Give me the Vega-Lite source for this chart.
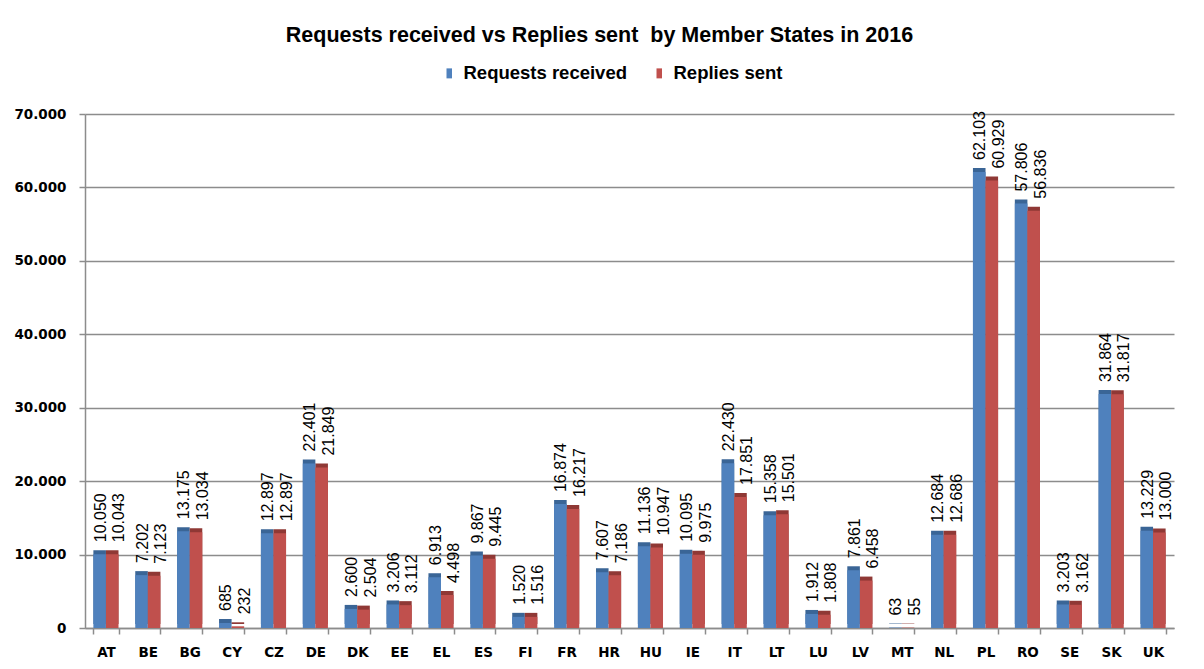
{
  "$schema": "https://vega.github.io/schema/vega-lite/v6.json",
  "width": 1089,
  "height": 514,
  "autosize": {"type": "none"},
  "padding": {"left": 85, "top": 114, "right": 30, "bottom": 41},
  "background": "white",
  "config": {
    "locale": {"number": {"decimal": ",", "thousands": ".", "grouping": [3], "currency": ["", " €"]}},
    "view": {"stroke": null},
    "font": "Liberation Sans"
  },
  "title": {
    "text": "Requests received vs Replies sent\u00a0 by Member States in 2016",
    "fontSize": 21.5,
    "fontWeight": "bold",
    "font": "Liberation Sans",
    "color": "black",
    "anchor": "middle",
    "dx": -30,
    "offset": 18
  },
  "data": {
    "values": [
      {"country": "AT", "series": "Requests received", "value": 10050},
      {"country": "AT", "series": "Replies sent", "value": 10043},
      {"country": "BE", "series": "Requests received", "value": 7202},
      {"country": "BE", "series": "Replies sent", "value": 7123},
      {"country": "BG", "series": "Requests received", "value": 13175},
      {"country": "BG", "series": "Replies sent", "value": 13034},
      {"country": "CY", "series": "Requests received", "value": 685},
      {"country": "CY", "series": "Replies sent", "value": 232},
      {"country": "CZ", "series": "Requests received", "value": 12897},
      {"country": "CZ", "series": "Replies sent", "value": 12897},
      {"country": "DE", "series": "Requests received", "value": 22401},
      {"country": "DE", "series": "Replies sent", "value": 21849},
      {"country": "DK", "series": "Requests received", "value": 2600},
      {"country": "DK", "series": "Replies sent", "value": 2504},
      {"country": "EE", "series": "Requests received", "value": 3206},
      {"country": "EE", "series": "Replies sent", "value": 3112},
      {"country": "EL", "series": "Requests received", "value": 6913},
      {"country": "EL", "series": "Replies sent", "value": 4498},
      {"country": "ES", "series": "Requests received", "value": 9867},
      {"country": "ES", "series": "Replies sent", "value": 9445},
      {"country": "FI", "series": "Requests received", "value": 1520},
      {"country": "FI", "series": "Replies sent", "value": 1516},
      {"country": "FR", "series": "Requests received", "value": 16874},
      {"country": "FR", "series": "Replies sent", "value": 16217},
      {"country": "HR", "series": "Requests received", "value": 7607},
      {"country": "HR", "series": "Replies sent", "value": 7186},
      {"country": "HU", "series": "Requests received", "value": 11136},
      {"country": "HU", "series": "Replies sent", "value": 10947},
      {"country": "IE", "series": "Requests received", "value": 10095},
      {"country": "IE", "series": "Replies sent", "value": 9975},
      {"country": "IT", "series": "Requests received", "value": 22430},
      {"country": "IT", "series": "Replies sent", "value": 17851},
      {"country": "LT", "series": "Requests received", "value": 15358},
      {"country": "LT", "series": "Replies sent", "value": 15501},
      {"country": "LU", "series": "Requests received", "value": 1912},
      {"country": "LU", "series": "Replies sent", "value": 1808},
      {"country": "LV", "series": "Requests received", "value": 7861},
      {"country": "LV", "series": "Replies sent", "value": 6458},
      {"country": "MT", "series": "Requests received", "value": 63},
      {"country": "MT", "series": "Replies sent", "value": 55},
      {"country": "NL", "series": "Requests received", "value": 12684},
      {"country": "NL", "series": "Replies sent", "value": 12686},
      {"country": "PL", "series": "Requests received", "value": 62103},
      {"country": "PL", "series": "Replies sent", "value": 60929},
      {"country": "RO", "series": "Requests received", "value": 57806},
      {"country": "RO", "series": "Replies sent", "value": 56836},
      {"country": "SE", "series": "Requests received", "value": 3203},
      {"country": "SE", "series": "Replies sent", "value": 3162},
      {"country": "SK", "series": "Requests received", "value": 31864},
      {"country": "SK", "series": "Replies sent", "value": 31817},
      {"country": "UK", "series": "Requests received", "value": 13229},
      {"country": "UK", "series": "Replies sent", "value": 13000}
    ]
  },
  "encoding": {
    "x": {
      "field": "country",
      "type": "nominal",
      "sort": null,
      "scale": {"paddingInner": 0.4, "paddingOuter": 0.2},
      "axis": {
        "title": null,
        "labelAngle": 0,
        "labelFont": "DejaVu Sans",
        "labelFontSize": 13.5,
        "labelFontWeight": "bold",
        "labelColor": "black",
        "labelPadding": 11,
        "tickBand": "extent",
        "tickColor": "#8c8c8c",
        "tickSize": 6,
        "tickWidth": 1.5,
        "domainColor": "#8c8c8c",
        "domainWidth": 1.5,
        "grid": false
      }
    },
    "xOffset": {"field": "series", "type": "nominal", "sort": ["Requests received", "Replies sent"], "scale": {"paddingInner": 0}},
    "y": {
      "field": "value",
      "type": "quantitative",
      "scale": {"domain": [0, 70000], "nice": false},
      "axis": {
        "title": null,
        "values": [0, 10000, 20000, 30000, 40000, 50000, 60000, 70000],
        "format": ",d",
        "labelFont": "DejaVu Sans",
        "labelFontSize": 13.5,
        "labelFontWeight": "bold",
        "labelColor": "black",
        "labelPadding": 13,
        "tickColor": "#8c8c8c",
        "tickSize": 6,
        "tickWidth": 1.5,
        "domainColor": "#8c8c8c",
        "domainWidth": 1.5,
        "grid": true,
        "gridColor": "#8c8c8c",
        "gridWidth": 1.5
      }
    }
  },
  "layer": [
    {
      "mark": {"type": "bar", "xOffset": 6, "x2Offset": 6, "yOffset": -4, "y2Offset": -4},
      "encoding": {
        "color": {
          "field": "series",
          "type": "nominal",
          "legend": null,
          "scale": {"domain": ["Requests received", "Replies sent"], "range": ["#3A6596", "#8F3835"]}
        }
      }
    },
    {
      "mark": {"type": "bar", "xOffset": 2, "x2Offset": 2},
      "encoding": {
        "color": {
          "field": "series",
          "type": "nominal",
          "scale": {"domain": ["Requests received", "Replies sent"], "range": ["#4F81BD", "#C0504D"]},
          "legend": {
            "title": null,
            "orient": "none",
            "direction": "horizontal",
            "legendX": 355,
            "legendY": -50,
            "labelFont": "Liberation Sans",
            "labelFontSize": 18.5,
            "labelFontWeight": "bold",
            "labelColor": "black",
            "labelLimit": 400,
            "symbolType": "M-0.55,-1L0.55,-1L0.55,1L-0.55,1Z",
            "symbolSize": 100,
            "symbolStrokeWidth": 0,
            "columnPadding": 22,
            "labelOffset": 5
          }
        }
      }
    },
    {
      "transform": [{"filter": "datum.series === 'Requests received'"}],
      "mark": {"type": "text", "angle": -90, "align": "left", "baseline": "middle", "dx": 12, "dy": 1, "fontSize": 16, "font": "Liberation Sans", "color": "black"},
      "encoding": {
        "text": {"field": "value", "type": "quantitative", "format": ",d"}
      }
    },
    {
      "transform": [{"filter": "datum.series === 'Replies sent'"}],
      "mark": {"type": "text", "angle": -90, "align": "left", "baseline": "middle", "dx": 12, "dy": 7, "fontSize": 16, "font": "Liberation Sans", "color": "black"},
      "encoding": {
        "text": {"field": "value", "type": "quantitative", "format": ",d"}
      }
    }
  ],
  "resolve": {"scale": {"color": "independent"}, "legend": {"color": "independent"}}
}
